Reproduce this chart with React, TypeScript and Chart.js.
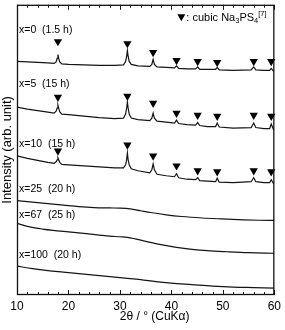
import React, { useEffect, useRef } from "react";
import { Chart, registerables } from "chart.js";

Chart.register(...registerables);

// 2θ grid for the crystalline (x = 0, 5, 10) patterns
const crystallineTheta = [
  10, 12, 14, 16, 17.2, 17.6, 17.8, 17.95, 18.1, 18.3, 18.7, 20, 23, 26, 29,
  30.7, 31.1, 31.3, 31.45, 31.6, 31.8, 32.2, 33.5, 35.8, 36.2, 36.45, 36.7,
  37.2, 39, 40.6, 41.0, 41.4, 43, 44.7, 45.1, 45.5, 47, 48.6, 48.9, 49.3, 52,
  55.5, 56.0, 56.4, 58, 59.1, 59.4, 59.8, 60,
];

const trace0 = [
  235, 234.5, 234, 233.5, 233, 234.5, 238, 242, 238, 234.5, 232.5, 232, 231.5,
  231, 231, 231.5, 235, 240, 246, 240, 235, 232, 230.5, 230, 232, 237, 232,
  229.5, 229, 228.5, 230.5, 228, 227.5, 227.5, 229.5, 227, 227, 227, 229,
  226.5, 226, 226.5, 229.5, 226.5, 226, 226, 228, 225.5, 225.5,
];

const trace5 = [
  189, 187, 185.5, 184, 183, 185, 188, 191, 188, 184.5, 182, 181.5, 180, 178.5,
  177.5, 178, 182, 188, 194, 188, 182, 178, 176.5, 175.5, 178, 183, 178, 175,
  174, 173, 176, 172.5, 171.5, 171, 173.5, 170.5, 169.5, 169.5, 173, 169, 168,
  168.5, 173, 168.5, 167.5, 167.5, 172, 167, 167,
];

const trace10 = [
  140, 137.5, 135.5, 133.5, 132.5, 134, 136, 138, 136, 133.5, 131.5, 131, 130,
  129, 128, 128, 131, 136, 143, 136, 131, 127, 125, 123, 126, 132, 126, 121.5,
  120, 119, 122, 118, 116.5, 116, 118, 115, 114.5, 114, 117.5, 113.5, 113, 114,
  118, 114, 113, 113, 116, 112.5, 112.5,
];

const theta25 = [10, 13, 16, 19, 22, 25, 28, 30, 32, 34, 36, 39, 42, 46, 50, 54, 57, 60];
const trace25 = [95, 93.5, 92, 90.5, 89, 88, 87.6, 87.4, 86.6, 84.8, 83, 80.7, 79, 77.5, 76.5, 75.6, 75.2, 75];

const theta67 = [10, 12.5, 15, 17, 20, 23, 26, 28, 30, 31.5, 33, 35, 38, 41, 44, 47, 51, 55, 60];
const trace67 = [72, 68.5, 66.3, 65, 63.5, 62, 60.3, 59.2, 58.6, 58, 56.4, 54, 50.7, 48, 46, 44.6, 43.5, 42.6, 42];

const theta100 = [10, 13, 16, 19, 22, 25, 28, 31, 34, 37, 40, 44, 48, 52, 56, 60];
const trace100 = [29, 26.5, 24.5, 23, 21.5, 20, 18.5, 17, 15.5, 13.5, 12, 10.5, 9, 8, 7.5, 7];

// cubic Na3PS4 reflections and marker heights
const peakTheta = [17.95, 31.45, 36.45, 41.0, 45.1, 48.9, 56.0, 59.4];
const marker0 = [255, 253, 244, 236, 235, 234, 235, 235];
const marker5 = [199, 200, 193, 183, 181, 180, 181, 180];
const marker10 = [145, 151, 140, 130, 125, 124, 125, 124];

const traceLabels = ["x=0  (1.5 h)", "x=5  (15 h)", "x=10  (15 h)", "x=25  (20 h)", "x=67  (25 h)", "x=100  (20 h)"];
const labelLevels = [267, 212, 152, 107, 80, 40];

const xTicks = [10, 20, 30, 40, 50, 60];

const FONT = '"Liberation Sans", Arial, sans-serif';

function pts(xs: number[], ys: number[]) {
  return xs.map((x, i) => ({ x, y: ys[i] }));
}

const decorPlugin = {
  id: "decor",
  afterDatasetsDraw(chart: any) {
    const { ctx, chartArea: a, scales } = chart;
    const xs = scales.x;
    const ys = scales.y;
    ctx.save();
    // frame
    ctx.strokeStyle = "#111";
    ctx.lineWidth = 1.3;
    ctx.strokeRect(a.left + 0.5, a.top + 0.5, a.right - a.left - 1, a.bottom - a.top - 1);
    // ticks, inward, top and bottom
    ctx.lineWidth = 1;
    for (let v = 10; v <= 60; v += 2) {
      const px = Math.round(xs.getPixelForValue(v)) + 0.5;
      const len = v % 10 === 0 ? 5 : 3;
      ctx.beginPath();
      ctx.moveTo(px, a.bottom);
      ctx.lineTo(px, a.bottom - len);
      ctx.moveTo(px, a.top);
      ctx.lineTo(px, a.top + len);
      ctx.stroke();
    }
    // trace labels
    ctx.fillStyle = "#000";
    ctx.font = "10.5px " + FONT;
    ctx.textAlign = "left";
    ctx.textBaseline = "middle";
    const lx = xs.getPixelForValue(10) + 2;
    traceLabels.forEach((t, i) => {
      ctx.fillText(t, lx, ys.getPixelForValue(labelLevels[i]));
    });
    // legend
    const gx = a.right - 97;
    const gy = a.top + 13;
    ctx.beginPath();
    ctx.moveTo(gx, gy - 3.5);
    ctx.lineTo(gx + 8, gy - 3.5);
    ctx.lineTo(gx + 4, gy + 3.5);
    ctx.closePath();
    ctx.fill();
    let tx = gx + 9;
    const seg = (s: string, size: number, dy: number) => {
      ctx.font = size + "px " + FONT;
      ctx.fillText(s, tx, gy + dy);
      tx += ctx.measureText(s).width;
    };
    seg(": cubic Na", 11, 0);
    seg("3", 7.5, 3);
    seg("PS", 11, 0);
    seg("4", 7.5, 3);
    seg("[7]", 7.5, -4);
    // x axis title
    ctx.font = "12px " + FONT;
    ctx.textAlign = "center";
    ctx.fillText("2θ / ° (CuKα)", (a.left + a.right) / 2 + 9, chart.height - 13);
    ctx.restore();
  },
};

export default function App() {
  const ref = useRef<HTMLCanvasElement | null>(null);
  useEffect(() => {
    document.body.style.margin = "0";
    if (!ref.current) return;
    const line = (d: any, smooth = false) => ({
      data: d,
      borderColor: "#151515",
      borderWidth: 1.2,
      pointRadius: 0,
      tension: 0,
      cubicInterpolationMode: smooth ? "monotone" : "default",
      fill: false,
    });
    const marks = (ys: number[]) => ({
      data: pts(peakTheta, ys),
      showLine: false,
      pointStyle: "triangle",
      rotation: 180,
      pointRadius: 4.8,
      pointBackgroundColor: "#000",
      pointBorderWidth: 0,
      clip: false,
    });
    const chart = new Chart(ref.current, {
      type: "line",
      data: {
        datasets: [
          line(pts(crystallineTheta, trace0)),
          line(pts(crystallineTheta, trace5)),
          line(pts(crystallineTheta, trace10)),
          line(pts(theta25, trace25), true),
          line(pts(theta67, trace67), true),
          line(pts(theta100, trace100), true),
          marks(marker0),
          marks(marker5),
          marks(marker10),
        ] as any,
      },
      options: {
        animation: false,
        responsive: false,
        layout: { padding: { top: 3, right: 6, left: 0, bottom: 0 } },
        plugins: { legend: { display: false }, tooltip: { enabled: false } },
        scales: {
          x: {
            type: "linear",
            min: 10,
            max: 60,
            afterBuildTicks: (s: any) => {
              s.ticks = xTicks.map((v) => ({ value: v }));
            },
            afterFit: (s: any) => {
              s.height = 35;
            },
            grid: { display: false, drawTicks: false },
            border: { display: false },
            ticks: { color: "#000", font: { size: 12, family: FONT }, padding: 4, maxRotation: 0 },
          },
          y: {
            type: "linear",
            min: 0,
            max: 292,
            afterFit: (s: any) => {
              s.width = 17;
            },
            grid: { display: false, drawTicks: false },
            border: { display: false },
            ticks: { display: false },
            title: {
              display: true,
              text: "Intensity (arb. unit)",
              color: "#000",
              font: { size: 13, family: FONT },
              padding: { top: 0, bottom: 0 },
            },
          },
        },
      },
      plugins: [decorPlugin],
    } as any);
    return () => chart.destroy();
  }, []);
  return (
    <div style={{ width: 285, height: 330 }}>
      <canvas ref={ref} width={285} height={330} style={{ display: "block" }} />
    </div>
  );
}
